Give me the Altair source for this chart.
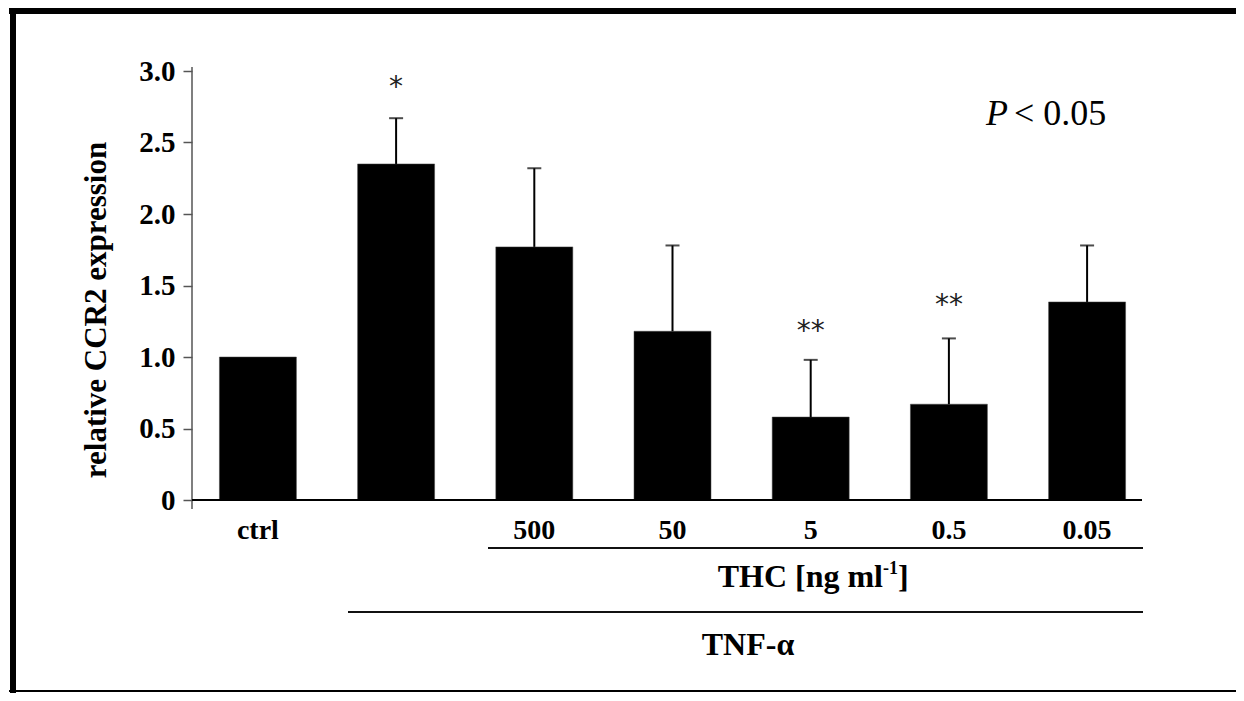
import altair as alt
import pandas as pd

categories = ["ctrl", "TNF", "500", "50", "5", "0.5", "0.05"]
means = [1.0, 2.35, 1.77, 1.18, 0.58, 0.67, 1.385]
err_top = [None, 2.67, 2.32, 1.78, 0.98, 1.13, 1.78]
stars = ["", "*", "", "", "**", "**", ""]
star_y = [None, 2.92, None, None, 1.22, 1.40, None]
y_ticks = [0, 0.5, 1.0, 1.5, 2.0, 2.5, 3.0]

df = pd.DataFrame({"cat": categories, "mean": means, "err": err_top,
                   "star": stars, "sy": star_y})

SERIF = "Liberation Serif"

xscale = alt.Scale(domain=categories, range=[6, 955], paddingInner=0.443, paddingOuter=0.155)
xenc = alt.X("cat:N", sort=categories, scale=xscale,
             axis=alt.Axis(labelExpr="datum.value == 'TNF' ? '' : datum.value",
                           domain=False, ticks=False, tickSize=0, labelAngle=0,
                           labelFont=SERIF, labelFontSize=28, labelFontWeight="bold",
                           labelColor="black", labelBaseline="alphabetic",
                           labelPadding=38, title=None))
yscale = alt.Scale(domain=[0, 3], nice=False, zero=True)
yenc = alt.Y("mean:Q", scale=yscale,
             axis=alt.Axis(values=y_ticks,
                           labelExpr="datum.value == 0 ? '0' : format(datum.value, '.1f')",
                           domain=False, grid=False, tickSize=9, tickColor="#555",
                           tickWidth=1.5, labelFont=SERIF, labelFontSize=29,
                           labelFontWeight="bold", labelColor="black",
                           labelPadding=8, title=None))

bars = alt.Chart(df).mark_bar(color="black", stroke="#444", strokeWidth=0.5).encode(x=xenc, y=yenc)

errdf = df[df["err"].notna()]
stems = alt.Chart(errdf).mark_rule(color="black", strokeWidth=2).encode(
    x=alt.X("cat:N", sort=categories, scale=xscale),
    y=alt.Y("mean:Q", scale=yscale), y2="err:Q")
caps = alt.Chart(errdf).mark_tick(color="black", orient="horizontal", size=14,
                                  thickness=2).encode(
    x=alt.X("cat:N", sort=categories, scale=xscale),
    y=alt.Y("err:Q", scale=yscale))

stardf = df[df["sy"].notna()]
star_text = alt.Chart(stardf).mark_text(font="DejaVu Sans", fontSize=28, dy=6,
                                        color="#222", baseline="middle").encode(
    x=alt.X("cat:N", sort=categories, scale=xscale),
    y=alt.Y("sy:Q", scale=yscale), text="star:N")

one = alt.Data(values=[{"a": 1}])


def hrule(x1, x2, y, w, color="black"):
    return alt.Chart(one).mark_rule(color=color, strokeWidth=w).encode(
        x=alt.value(x1), x2=alt.value(x2), y=alt.value(y))


def vrule(x, y1, y2, w, color="black"):
    return alt.Chart(one).mark_rule(color=color, strokeWidth=w).encode(
        x=alt.value(x), y=alt.value(y1), y2=alt.value(y2))


def label(x, y, txt, size, weight="bold", style="normal", align="center", font=SERIF):
    return alt.Chart(one).mark_text(font=font, fontSize=size, fontWeight=weight,
                                    fontStyle=style, align=align,
                                    baseline="alphabetic", color="black").encode(
        x=alt.value(x), y=alt.value(y), text=alt.value(txt))


y_axis_line = vrule(0, -4, 438, 1.5, "#555")
baseline = hrule(0, 950, 429, 2)
thc_line = hrule(296, 951, 477, 2, "#111")
tnf_line = hrule(156, 951, 541, 2, "#111")

thc_main = label(691, 516, "THC [ng ml", 32, align="right")
thc_sup = label(691, 503, "-1", 18, align="left")
thc_end = label(706, 516, "]", 32, align="left")
tnf_label = label(556, 584, "TNF-α", 32)
p_italic = label(794, 54, "P", 36, weight="normal", style="italic", align="left")
p_rest = label(822, 54, "< 0.05", 36, weight="normal", align="left")

ytitle = alt.Chart(one).mark_text(font=SERIF, fontSize=31, fontWeight="bold",
                                  angle=270, align="center", baseline="middle",
                                  color="black").encode(
    x=alt.value(-95), y=alt.value(239), text=alt.value("relative CCR2 expression"))

frame_left = vrule(-179, -63, 622, 6)
frame_top = hrule(-183, 1044, -60, 6)
frame_bottom = hrule(-183, 1044, 620, 2)

chart = alt.layer(
    bars, stems, caps, star_text, y_axis_line, baseline, thc_line, tnf_line,
    thc_main, thc_sup, thc_end, tnf_label, p_italic, p_rest, ytitle,
    frame_left, frame_top, frame_bottom
).properties(
    width=950, height=429,
    padding={"left": 184, "top": 63, "right": 94, "bottom": 193},
    autosize=alt.AutoSizeParams(type="none"),
    background="white"
).configure_view(stroke=None)

chart.save("out.html", embed_options={"renderer": "svg", "actions": False})
